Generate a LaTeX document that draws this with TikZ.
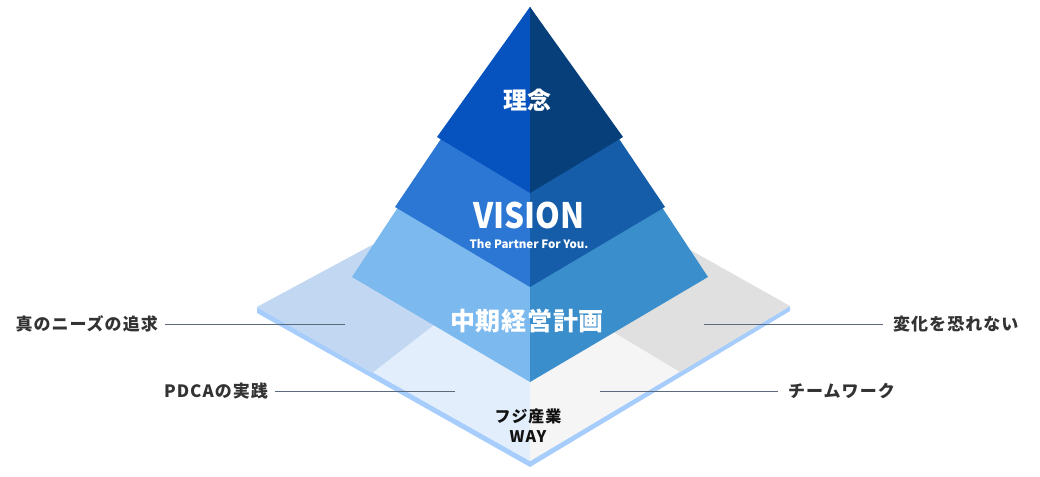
\documentclass[tikz,border=0pt]{standalone}
\usepackage{fontspec}
\setmainfont{Noto Sans CJK JP}
\newfontfamily\spaced{Noto Sans CJK JP}[LetterSpace=6]
\newfontfamily\narrow{Noto Sans CJK JP}[FakeStretch=0.9]
\newfontfamily\plan{Noto Sans CJK JP}[LetterSpace=3]
\usepackage{tikz}

\definecolor{topleft}{HTML}{0652BF}
\definecolor{topright}{HTML}{063F79}
\definecolor{midleft}{HTML}{2C77D3}
\definecolor{midright}{HTML}{155DA9}
\definecolor{lowleft}{HTML}{7BB9EF}
\definecolor{lowright}{HTML}{3B8ECC}
\definecolor{quadleft}{HTML}{C2D7F2}
\definecolor{frontleft}{HTML}{E2EEFC}
\definecolor{quadright}{HTML}{E0E0E0}
\definecolor{frontright}{HTML}{F5F5F5}
\definecolor{baseedge}{HTML}{A6CDFB}
\definecolor{leader}{HTML}{5C6A7E}
\definecolor{labeltext}{HTML}{333333}

\tikzset{
  tiertext/.style={white,inner sep=0pt,font=\bfseries\fontsize{#1}{#1}\selectfont},
  way/.style={text=black!93,align=center,inner sep=0pt,font=\spaced\bfseries\fontsize{16}{20}\selectfont},
  value/.style={text=labeltext,inner sep=0pt,font=\spaced\bfseries\fontsize{17}{17}\selectfont},
  leaderline/.style={draw=leader,line width=1pt}
}

\begin{document}
\begin{tikzpicture}[x=1pt,y=-1pt]
   \useasboundingbox (0,0) rectangle (1040,476);

   % base plate
   \fill[baseedge] (257,307) -- (530,461) -- (790,306) -- (790,311) -- (530,467) -- (257,313) -- cycle;
   \fill[frontleft] (257,307) -- (530,160) -- (530,461) -- cycle;
   \fill[frontright] (790,306) -- (530,160) -- (530,461) -- cycle;
   \fill[quadleft] (257,307) -- (530,160) -- (524,255) -- (372,373) -- cycle;
   \fill[quadright] (790,306) -- (530,160) -- (537,286) -- (680,372) -- cycle;

   % pyramid
   \fill[lowleft] (530,7) -- (352,277) -- (530,382) -- cycle;
   \fill[lowright] (530,7) -- (708,277) -- (530,382) -- cycle;
   \fill[midleft] (530,7) -- (395,207) -- (530,287) -- cycle;
   \fill[midright] (530,7) -- (665,207) -- (530,287) -- cycle;
   \fill[topleft] (530,7) -- (437,137) -- (530,193) -- cycle;
   \fill[topright] (530,7) -- (623,137) -- (530,193) -- cycle;

   \draw (527,100) node[tiertext=24] (rinen) {理念};
   \draw (529,215) node[tiertext=35] (vision) {\narrow VISION};
   \draw (529,244) node[tiertext=11.5] (partner) {The Partner For You.};
   \draw (527,321) node[tiertext=25] (plan) {\plan 中期経営計画};
   \draw (528,426) node[way] (fujiway) {フジ産業\\WAY};

   \draw (158,324) node[value,anchor=east] (needs) {真のニーズの追求};
   \draw (268,391) node[value,anchor=east] (pdca) {PDCAの実践};
   \draw (893,324) node[value,anchor=west] (change) {変化を恐れない};
   \draw (788,391) node[value,anchor=west] (team) {チームワーク};

   \coordinate (needsend) at (345,324);
   \coordinate (pdcaend) at (455,391);
   \coordinate (changeend) at (704,324);
   \coordinate (teamend) at (600,391);

   \path[leaderline] ([xshift=7pt]needs.east) -- (needsend);
   \path[leaderline] ([xshift=7pt]pdca.east) -- (pdcaend);
   \path[leaderline] ([xshift=-10pt]change.west) -- (changeend);
   \path[leaderline] ([xshift=-10pt]team.west) -- (teamend);
\end{tikzpicture}
\end{document}
